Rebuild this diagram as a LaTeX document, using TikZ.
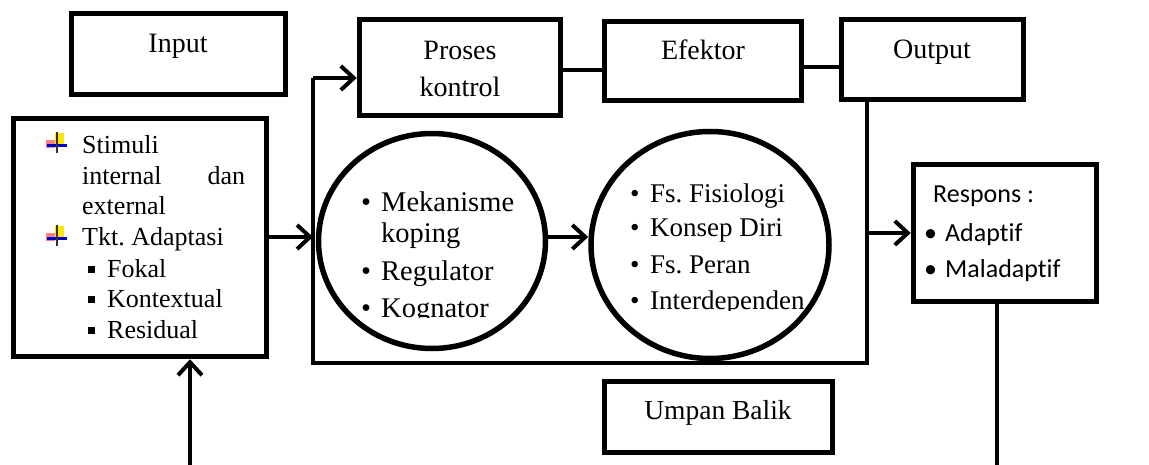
\documentclass[tikz,border=0pt]{standalone}
\usepackage{fontspec}
\setmainfont{Liberation Serif}
\newfontfamily\calibri[Ligatures=NoCommon]{Carlito}
\usetikzlibrary{arrows.meta,shapes.geometric}
\frenchspacing
\tikzset{
  box/.style={draw, line width=5.5pt, rectangle, inner sep=0pt},
  oval/.style={draw, line width=5.5pt, ellipse, inner sep=0pt},
  conn/.style={line width=4pt},
  arr/.style={line width=4pt, -{Straight Barb[length=13pt,width=24pt,line width=4pt]}},
  txt/.style={inner sep=0pt, anchor=base west},
  ctxt/.style={inner sep=0pt, anchor=base},
  plusicon/.pic={
    \fill[red!50!white] (-11,-3) rectangle (-2,5);
    \fill[yellow!90!orange] (-2,-10) rectangle (7,1);
    \fill[blue!80!black] (-10,1) rectangle (10,4.5);
    \draw[line width=1.8pt, black!80] (0,-11) -- (0,10);
  }
}
\newcommand{\sqb}{\rule[4pt]{7pt}{7pt}\hspace{12pt}}
\newcommand{\cb}{\makebox[20pt][l]{•}}
\begin{document}
\begin{tikzpicture}[x=1pt,y=-1pt]
\useasboundingbox (0,0) rectangle (1149,465);

% boxes
\node[box, minimum width=214pt, minimum height=81pt] (input) at (178.5,54) {};
\node[box, minimum width=253pt, minimum height=238pt] (left) at (140,237.5) {};
\node[box, minimum width=201pt, minimum height=96pt] (proses) at (460,67.5) {};
\node[box, minimum width=197pt, minimum height=79pt] (efektor) at (703,61) {};
\node[box, minimum width=182pt, minimum height=80pt] (output) at (932.5,59.5) {};
\node[box, minimum width=183pt, minimum height=137pt] (respons) at (1005,233) {};
\node[box, minimum width=228pt, minimum height=71pt] (umpan) at (718.5,417) {};
\node[oval, minimum width=227pt, minimum height=215pt] (c1) at (432,241) {};
\node[oval, minimum width=238pt, minimum height=227pt] (c2) at (710,245) {};

% box texts
\node[ctxt, font=\fontsize{28}{32}\selectfont] (tinput) at (178,53) {Input};
\node[ctxt, font=\fontsize{28}{32}\selectfont] (tproses1) at (460,60) {Proses};
\node[ctxt, font=\fontsize{28}{32}\selectfont] (tproses2) at (460,97) {kontrol};
\node[ctxt, font=\fontsize{28}{32}\selectfont] (tefektor) at (703,60) {Efektor};
\node[ctxt, font=\fontsize{28}{32}\selectfont] (toutput) at (932,59) {Output};
\node[ctxt, font=\fontsize{27.5}{32}\selectfont] (tumpan) at (718,419) {Umpan Balik};

% left box content
\pic at (57,143) {plusicon};
\pic at (57,236) {plusicon};
\begin{scope}[font=\fontsize{26}{30}\selectfont]
\node[txt] (l1) at (82,154) {Stimuli};
\node[txt] (l2) at (82,185) {\makebox[163pt][l]{internal\hfill dan}};
\node[txt] (l3) at (82,215) {external};
\node[txt] (l4) at (82,246) {Tkt. Adaptasi};
\node[txt] (l5) at (88,277) {\sqb Fokal};
\node[txt] (l6) at (88,307) {\sqb Kontextual};
\node[txt] (l7) at (88,338) {\sqb Residual};
\end{scope}

% circle 1 content
\begin{scope}
\clip (330,150) rectangle (545,317);
\begin{scope}[font=\fontsize{28.5}{32}\selectfont]
\node[txt] (m1) at (361,212) {\cb Mekanisme};
\node[txt] (m2) at (381,243) {koping};
\node[txt] (m3) at (361,280) {\cb Regulator};
\node[txt] (m4) at (361,317) {\cb Kognator};
\end{scope}
\end{scope}

% circle 2 content
\begin{scope}
\clip (600,150) rectangle (830,310);
\begin{scope}[font=\fontsize{27}{32}\selectfont]
\node[txt] (f1) at (630,203) {\cb Fs. Fisiologi};
\node[txt] (f2) at (630,237) {\cb Konsep Diri};
\node[txt] (f3) at (630,273) {\cb Fs. Peran};
\node[txt] (f4) at (630,309) {\cb Interdependen};
\end{scope}
\end{scope}

% respons content
\begin{scope}[font=\calibri\fontsize{26}{30}\selectfont]
\node[txt] (r1) at (933,203) {Respons :};
\node[txt] (r2) at (924,242) {\makebox[21pt][l]{•}Adaptif};
\node[txt] (r3) at (924,278) {\makebox[21pt][l]{•}Maladaptif};
\end{scope}

% frame coordinates
\coordinate (ftop) at (313,78);
\coordinate (fbot) at (313,363);
\coordinate (fright) at (867,363);
\coordinate (ustart) at (190,465);
\coordinate (rend) at (997,465);
\coordinate (pe) at (0,70);
\coordinate (eo) at (0,67);

% connectors
\draw[conn] (proses.east |- pe) -- (efektor.west |- pe);
\draw[conn] (efektor.east |- eo) -- (output.west |- eo);
\draw[conn] (ftop) -- (fbot) -- (fright) -- (fright |- output.south);
\draw[arr] (ftop) -- (proses.west |- ftop);
\draw[arr] (left.east |- 0,237) -- (ftop |- 0,237);
\draw[arr] (c1.east |- 0,237) -- (c2.west |- 0,237);
\draw[arr] (fright |- respons.west) -- (respons.west);
\draw[conn] (rend |- respons.south) -- (rend);
\draw[arr] (ustart) -- (ustart |- left.south);
\end{tikzpicture}
\end{document}
